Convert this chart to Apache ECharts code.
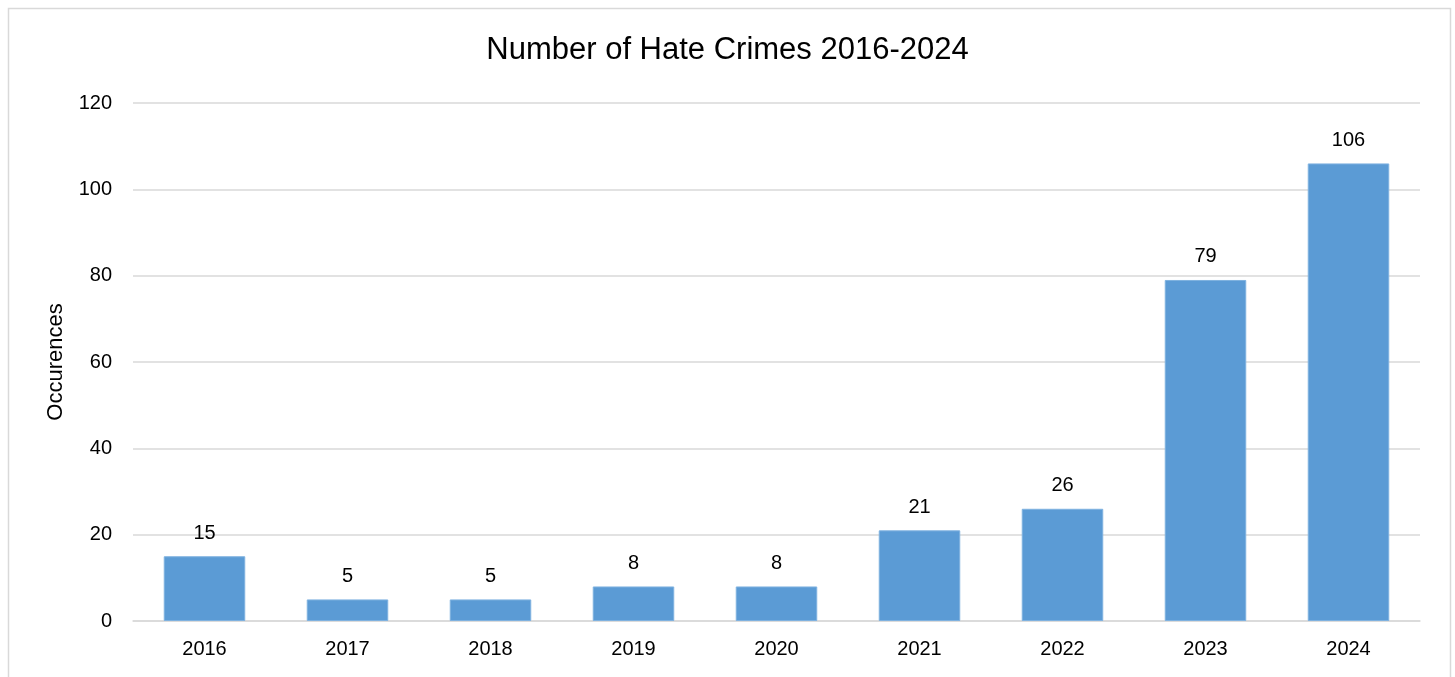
<!DOCTYPE html>
<html>
<head>
<meta charset="utf-8">
<script src="https://cdn.jsdelivr.net/npm/echarts@6/dist/echarts.min.js"></script>
<style>html,body{margin:0;padding:0;background:#fff}#c{width:1455px;height:677px}</style>
</head>
<body>
<div id="c"></div>
<script>
const categories = ['2016','2017','2018','2019','2020','2021','2022','2023','2024'];
const values = [15, 5, 5, 8, 8, 21, 26, 79, 106];
const yTicks = {min: 0, max: 120, interval: 20};
const FONT = '"Liberation Sans Narrow", "Arial Narrow", "Liberation Sans", Arial, sans-serif';
const chart = echarts.init(document.getElementById('c'));
chart.setOption({
  animation: false,
  textStyle: {fontFamily: FONT},
  title: {
    text: 'Number of Hate Crimes 2016-2024',
    left: 'center', top: 30,
    textStyle: {fontFamily: FONT, fontSize: 31, fontWeight: 'normal', color: '#000'}
  },
  graphic: [{
    type: 'rect', left: 6, top: 6, silent: true,
    shape: {width: 1442, height: 700},
    style: {fill: 'none', stroke: '#D9D9D9', lineWidth: 1.5}
  }],
  grid: {left: 133, right: 35, top: 103, bottom: 56, containLabel: false},
  xAxis: {
    type: 'category', data: categories,
    axisLine: {show: true, lineStyle: {color: '#D9D9D9', width: 1.5}},
    axisTick: {show: false},
    axisLabel: {fontFamily: FONT, fontSize: 20, color: '#000', margin: 18}
  },
  yAxis: {
    type: 'value', min: yTicks.min, max: yTicks.max, interval: yTicks.interval,
    name: 'Occurences', nameLocation: 'middle', nameGap: 66, nameRotate: 90,
    nameTextStyle: {fontFamily: FONT, fontSize: 22, color: '#000'},
    axisLine: {show: false}, axisTick: {show: false},
    axisLabel: {fontFamily: FONT, fontSize: 20, color: '#000', margin: 21},
    splitLine: {lineStyle: {color: '#D9D9D9', width: 1.5}}
  },
  series: [{
    type: 'bar', data: values, barWidth: '57%',
    itemStyle: {color: '#5B9BD5', borderColor: '#7FB2E0', borderWidth: 1},
    label: {show: true, position: 'top', distance: 13, fontFamily: FONT, fontSize: 20, color: '#000'}
  }]
});
</script>
</body>
</html>
